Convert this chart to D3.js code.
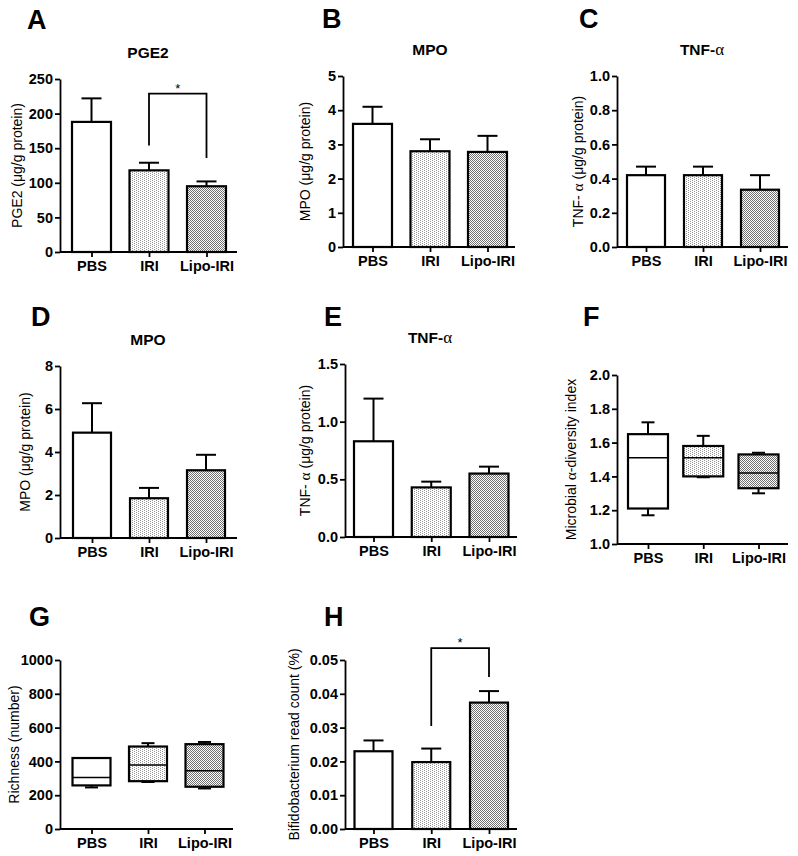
<!DOCTYPE html>
<html><head><meta charset="utf-8">
<script src="https://cdn.jsdelivr.net/npm/d3@7"></script>
<style>
body{margin:0;background:#fff;}
svg text{font-family:Arial,"Liberation Sans",sans-serif;fill:#000;}
</style>
</head><body>
<svg id="c" width="798" height="856"></svg>
<script>
// ---------------- DATA ----------------
const groups = ["PBS", "IRI", "Lipo-IRI"];

// A: PGE2 (mean, SEM)
const pge2Mean = [188, 118, 95];
const pge2Sem = [34, 11, 7];
const pge2Ticks = [0, 50, 100, 150, 200, 250];
const pge2Bracket = [229, 154, 136]; // top, left leg end, right leg end

// B: MPO (serum)
const mpoBMean = [3.6, 2.8, 2.78];
const mpoBSem = [0.5, 0.35, 0.47];
const mpoBTicks = [0, 1, 2, 3, 4, 5];

// C: TNF-alpha (serum)
const tnfCMean = [0.42, 0.42, 0.335];
const tnfCSem = [0.05, 0.05, 0.085];
const tnfCTicks = [0.0, 0.2, 0.4, 0.6, 0.8, 1.0];

// D: MPO (tissue)
const mpoDMean = [4.9, 1.85, 3.15];
const mpoDSem = [1.37, 0.48, 0.72];
const mpoDTicks = [0, 2, 4, 6, 8];

// E: TNF-alpha (tissue)
const tnfEMean = [0.83, 0.43, 0.55];
const tnfESem = [0.37, 0.05, 0.06];
const tnfETicks = [0.0, 0.5, 1.0, 1.5];

// F: Microbial alpha-diversity (box plot)
const divMin = [1.17, 1.395, 1.30];
const divQ1 = [1.21, 1.40, 1.33];
const divMed = [1.51, 1.51, 1.42];
const divQ3 = [1.65, 1.58, 1.53];
const divMax = [1.72, 1.64, 1.54];
const divTicks = [1.0, 1.2, 1.4, 1.6, 1.8, 2.0];

// G: Richness (box plot)
const richMin = [246, 278, 240];
const richQ1 = [258, 283, 250];
const richMed = [305, 378, 345];
const richQ3 = [420, 488, 502];
const richMax = [420, 508, 515];
const richTicks = [0, 200, 400, 600, 800, 1000];

// H: Bifidobacterium read count
const bifMean = [0.023, 0.0198, 0.0374];
const bifSem = [0.0032, 0.004, 0.0034];
const bifTicks = [0.00, 0.01, 0.02, 0.03, 0.04, 0.05];
const bifBracket = [0.0535, 0.0305, 0.045];

// ---------------- DRAW ----------------
const svg = d3.select("#c");
const defs = svg.append("defs");
const pL = defs.append("pattern").attr("id", "patIRI").attr("patternUnits", "userSpaceOnUse")
  .attr("width", 4).attr("height", 2);
pL.append("rect").attr("width", 4).attr("height", 2).attr("fill", "#fff");
pL.append("rect").attr("x", 0).attr("y", 0).attr("width", 1).attr("height", 1).attr("fill", "#959595");
pL.append("rect").attr("x", 2).attr("y", 1).attr("width", 1).attr("height", 1).attr("fill", "#959595");
const pD = defs.append("pattern").attr("id", "patLipo").attr("patternUnits", "userSpaceOnUse")
  .attr("width", 2).attr("height", 2);
pD.append("rect").attr("width", 2).attr("height", 2).attr("fill", "#fff");
pD.append("rect").attr("x", 0).attr("y", 0).attr("width", 1).attr("height", 1).attr("fill", "#707070");
pD.append("rect").attr("x", 1).attr("y", 1).attr("width", 1).attr("height", 1).attr("fill", "#707070");
const fills = ["#fff", "url(#patIRI)", "url(#patLipo)"];

const f0 = d3.format("d"), f1 = d3.format(".1f"), f2 = d3.format(".2f");

const panels = [
  {letter: "A", lx: 27, ly: 29, title: [["PGE2", 0]], tx: 148, ty: 58,
   ylabel: [["PGE2 (μg/g protein)", 0]], ylx: 18,
   x0: 60, xEnd: 237, yTop: 79, yBot: 252, c1: 91.5, c3: 206.5, w: 39,
   domain: [0, 250], ticks: pge2Ticks, fmt: f0, type: "bar", mean: pge2Mean, sem: pge2Sem, bracket: pge2Bracket},
  {letter: "B", lx: 322, ly: 28, title: [["MPO", 0]], tx: 430, ty: 55,
   ylabel: [["MPO (μg/g protein)", 0]], ylx: 306,
   x0: 343, xEnd: 515, yTop: 76, yBot: 247, c1: 372.5, c3: 487.5, w: 39,
   domain: [0, 5], ticks: mpoBTicks, fmt: f0, type: "bar", mean: mpoBMean, sem: mpoBSem},
  {letter: "C", lx: 579, ly: 28, title: [["TNF-", 0], ["α", 1]], tx: 702, ty: 55,
   ylabel: [["TNF- ", 0], ["α", 1], [" (μg/g protein)", 0]], ylx: 579,
   x0: 617, xEnd: 788, yTop: 76, yBot: 247, c1: 646, c3: 760, w: 38,
   domain: [0, 1], ticks: tnfCTicks, fmt: f1, type: "bar", mean: tnfCMean, sem: tnfCSem},
  {letter: "D", lx: 31, ly: 326, title: [["MPO", 0]], tx: 148, ty: 345,
   ylabel: [["MPO (μg/g protein)", 0]], ylx: 26,
   x0: 60, xEnd: 237, yTop: 366, yBot: 538, c1: 92, c3: 206, w: 38,
   domain: [0, 8], ticks: mpoDTicks, fmt: f0, type: "bar", mean: mpoDMean, sem: mpoDSem},
  {letter: "E", lx: 324, ly: 326, title: [["TNF-", 0], ["α", 1]], tx: 430, ty: 343,
   ylabel: [["TNF- ", 0], ["α", 1], [" (μg/g protein)", 0]], ylx: 306,
   x0: 345, xEnd: 517, yTop: 364, yBot: 537, c1: 373.5, c3: 489, w: 39,
   domain: [0, 1.5], ticks: tnfETicks, fmt: f1, type: "bar", mean: tnfEMean, sem: tnfESem},
  {letter: "F", lx: 583, ly: 326, title: null,
   ylabel: [["Microbial ", 0], ["α", 1], ["-diversity index", 0]], ylx: 572,
   x0: 617, xEnd: 788, yTop: 375, yBot: 544, c1: 648, c3: 758.5, w: 40,
   domain: [1, 2], ticks: divTicks, fmt: f1, type: "box",
   box: [divMin, divQ1, divMed, divQ3, divMax]},
  {letter: "G", lx: 29, ly: 626, title: null,
   ylabel: [["Richness (number)", 0]], ylx: 15,
   x0: 60, xEnd: 233, yTop: 660, yBot: 829, c1: 91.5, c3: 204.5, w: 38,
   domain: [0, 1000], ticks: richTicks, fmt: f0, type: "box",
   box: [richMin, richQ1, richMed, richQ3, richMax]},
  {letter: "H", lx: 324, ly: 626, title: null,
   ylabel: [["Bifidobacterium read count (%)", 0]], ylx: 295,
   x0: 345, xEnd: 517, yTop: 660, yBot: 829, c1: 373.5, c3: 489, w: 38,
   domain: [0, 0.05], ticks: bifTicks, fmt: f2, type: "bar", mean: bifMean, sem: bifSem, bracket: bifBracket}
];

function addSegs(t, segs) {
  segs.forEach(([s, g]) => {
    const ts = t.append("tspan").text(s);
    if (g) ts.attr("font-family", "'Liberation Serif','DejaVu Serif',serif").attr("font-weight", "normal")
      .attr("font-size", "1.1em");
  });
}

panels.forEach(p => {
  const g = svg.append("g");
  const y = d3.scaleLinear().domain(p.domain).range([p.yBot, p.yTop]);
  const x = d3.scalePoint().domain(groups).range([p.c1, p.c3]);

  // panel letter
  g.append("text").attr("x", p.lx).attr("y", p.ly).attr("font-size", 27).attr("font-weight", "bold").text(p.letter);
  // title
  if (p.title) {
    const t = g.append("text").attr("x", p.tx).attr("y", p.ty).attr("text-anchor", "middle")
      .attr("font-size", 15.5).attr("font-weight", "bold");
    addSegs(t, p.title);
  }
  // y label
  const yl = g.append("text")
    .attr("transform", `translate(${p.ylx},${(p.yTop + p.yBot) / 2}) rotate(-90)`)
    .attr("text-anchor", "middle").attr("dominant-baseline", "middle").attr("font-size", 14);
  addSegs(yl, p.ylabel);

  // marks
  if (p.type === "bar") {
    groups.forEach((c, i) => {
      const cx = x(c), top = y(p.mean[i] + p.sem[i]);
      g.append("line").attr("x1", cx).attr("x2", cx).attr("y1", y(p.mean[i])).attr("y2", top)
        .attr("stroke", "#000").attr("stroke-width", 2);
      g.append("line").attr("x1", cx - 10).attr("x2", cx + 10).attr("y1", top).attr("y2", top)
        .attr("stroke", "#000").attr("stroke-width", 2);
      g.append("rect").attr("x", cx - p.w / 2).attr("width", p.w)
        .attr("y", y(p.mean[i])).attr("height", y(0) - y(p.mean[i]))
        .attr("fill", fills[i]).attr("stroke", "#000").attr("stroke-width", 2.2);
    });
  } else {
    const [mn, q1, md, q3, mx] = p.box;
    groups.forEach((c, i) => {
      const cx = x(c);
      const wl = (a, b) => g.append("line").attr("x1", cx).attr("x2", cx).attr("y1", y(a)).attr("y2", y(b))
        .attr("stroke", "#000").attr("stroke-width", 2);
      const cap = v => g.append("line").attr("x1", cx - 6.5).attr("x2", cx + 6.5).attr("y1", y(v)).attr("y2", y(v))
        .attr("stroke", "#000").attr("stroke-width", 2);
      wl(mx[i], q3[i]); cap(mx[i]);
      wl(q1[i], mn[i]); cap(mn[i]);
      g.append("rect").attr("x", cx - p.w / 2).attr("width", p.w)
        .attr("y", y(q3[i])).attr("height", y(q1[i]) - y(q3[i]))
        .attr("fill", fills[i]).attr("stroke", "#000").attr("stroke-width", 2.2);
      g.append("line").attr("x1", cx - p.w / 2).attr("x2", cx + p.w / 2).attr("y1", y(md[i])).attr("y2", y(md[i]))
        .attr("stroke", "#000").attr("stroke-width", 1.5);
    });
  }

  // significance bracket
  if (p.bracket) {
    const [bt, bl, br] = p.bracket;
    const xa = x("IRI"), xb = x("Lipo-IRI");
    g.append("path").attr("d", `M${xa},${y(bl)}V${y(bt)}H${xb}V${y(br)}`)
      .attr("fill", "none").attr("stroke", "#000").attr("stroke-width", 1.8);
    g.append("text").attr("x", (xa + xb) / 2).attr("y", y(bt) - 1).attr("text-anchor", "middle")
      .attr("font-size", 13).text("*");
  }

  // y axis
  const ya = g.append("g").attr("transform", `translate(${p.x0},0)`)
    .call(d3.axisLeft(y).tickValues(p.ticks).tickFormat(p.fmt).tickSize(5).tickSizeOuter(0).tickPadding(2));
  ya.select(".domain").attr("stroke-width", 1.8);
  ya.selectAll(".tick line").attr("stroke-width", 1.8);
  ya.selectAll(".tick text").attr("font-size", 14.5).attr("font-weight", "bold")
    .attr("font-family", "Arial,'Liberation Sans',sans-serif").attr("fill", "#000");

  // x axis
  const xa = g.append("g").attr("transform", `translate(0,${p.yBot})`)
    .call(d3.axisBottom(x).tickSize(5).tickSizeOuter(0).tickPadding(4));
  xa.select(".domain").remove();
  xa.append("line").attr("x1", p.x0).attr("x2", p.xEnd).attr("stroke", "#000").attr("stroke-width", 1.8);
  xa.selectAll(".tick line").attr("stroke-width", 1.8);
  xa.selectAll(".tick text").attr("font-size", 14.5).attr("font-weight", "bold")
    .attr("font-family", "Arial,'Liberation Sans',sans-serif").attr("fill", "#000");
});
</script>
</body></html>
